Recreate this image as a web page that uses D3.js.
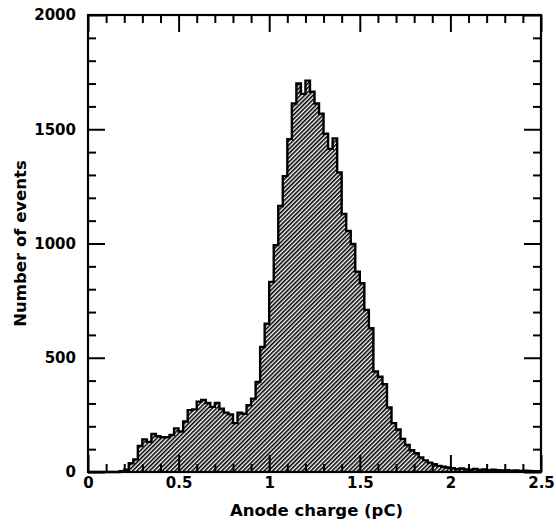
<!DOCTYPE html>
<html lang="en">
<head>
  <meta charset="UTF-8">
  <title>Anode charge</title>
  <style>
    body { margin: 0; background: #fff; }
    svg text { font-family: "DejaVu Sans", sans-serif; font-weight: bold; fill: #000; }
    .tick line { stroke: #000; stroke-width: 2; }
    .domain { display: none; }
  </style>
</head>
<body>
  <svg id="grafico" width="556" height="532"></svg>

  <script src="https://d3js.org/d3.v7.min.js"></script>
  <script>
    // histogram, bins of 0.025 pC from 0 to 2.5 pC
    const binWidth = 0.025;
    const counts = [
      0, 0, 0, 0, 0, 0, 0, 3, 10, 38,
      55, 114, 143, 132, 166, 157, 152, 152, 162, 191,
      177, 221, 271, 274, 308, 315, 302, 285, 302, 277,
      260, 252, 214, 260, 255, 292, 321, 394, 547, 649,
      832, 993, 1164, 1295, 1457, 1613, 1700, 1655, 1713, 1664,
      1613, 1568, 1480, 1414, 1460, 1311, 1129, 1055, 998, 877,
      826, 709, 629, 440, 417, 384, 282, 214, 186, 145,
      118, 95, 82, 64, 51, 41, 34, 27, 23, 20,
      17, 12, 15, 11, 10, 13, 9, 11, 8, 10,
      8, 7, 8, 6, 7, 5, 6, 5, 4, 4
    ];

    const xMajor = [0, 0.5, 1, 1.5, 2, 2.5];
    const xMinor = [0.1, 0.2, 0.3, 0.4, 0.6, 0.7, 0.8, 0.9, 1.1, 1.2, 1.3, 1.4,
                    1.6, 1.7, 1.8, 1.9, 2.1, 2.2, 2.3, 2.4];
    const yMajor = [0, 500, 1000, 1500, 2000];
    const yMinor = [100, 200, 300, 400, 600, 700, 800, 900, 1100, 1200, 1300, 1400,
                    1600, 1700, 1800, 1900];

    const esq = 88, dir = 541, topo = 15, base = 472;
    const x = d3.scaleLinear().domain([0, 2.5]).range([esq, dir]);
    const y = d3.scaleLinear().domain([0, 2000]).range([base, topo]);

    const svg = d3.select('#grafico');

    // hatch pattern ////
    const defs = svg.append('defs');
    defs.append('pattern')
      .attr('id', 'hachura')
      .attr('patternUnits', 'userSpaceOnUse')
      .attr('width', 3)
      .attr('height', 10)
      .attr('patternTransform', 'rotate(45)')
      .append('line')
      .attr('x1', 0.8).attr('y1', 0)
      .attr('x2', 0.8).attr('y2', 10)
      .attr('stroke', '#000')
      .attr('stroke-width', 1.6);

    // step points of the histogram
    const pontos = [];
    counts.forEach((c, i) => {
      pontos.push([i * binWidth, c]);
      pontos.push([(i + 1) * binWidth, c]);
    });

    const area = d3.area()
      .x(d => x(d[0]))
      .y0(y(0))
      .y1(d => y(d[1]));
    const linha = d3.line()
      .x(d => x(d[0]))
      .y(d => y(d[1]));

    svg.append('path')
      .datum(pontos)
      .attr('d', area)
      .attr('fill', 'url(#hachura)');

    svg.append('path')
      .datum(pontos)
      .attr('d', linha)
      .attr('fill', 'none')
      .attr('stroke', '#000')
      .attr('stroke-width', 2.4)
      .attr('stroke-linejoin', 'miter');

    // ticks on all four sides, pointing inward
    function eixo(gerador, transf, valores, tamanho, rotulo, pad) {
      const g = svg.append('g').attr('transform', transf)
        .call(gerador.tickValues(valores).tickSize(-tamanho).tickPadding(pad || 5)
          .tickFormat(rotulo ? d3.format('') : ''));
      g.selectAll('text').style('font-size', '15px');
      return g;
    }

    eixo(d3.axisBottom(x), `translate(0,${base})`, xMajor, 17, true, 5);
    eixo(d3.axisBottom(x), `translate(0,${base})`, xMinor, 8, false);
    eixo(d3.axisTop(x), `translate(0,${topo})`, xMajor, 17, false);
    eixo(d3.axisTop(x), `translate(0,${topo})`, xMinor, 8, false);
    eixo(d3.axisLeft(y), `translate(${esq},0)`, yMajor, 17, true, 12);
    eixo(d3.axisLeft(y), `translate(${esq},0)`, yMinor, 8, false);
    eixo(d3.axisRight(y), `translate(${dir},0)`, yMajor, 17, false);
    eixo(d3.axisRight(y), `translate(${dir},0)`, yMinor, 8, false);

    // frame
    svg.append('rect')
      .attr('x', esq).attr('y', topo)
      .attr('width', dir - esq).attr('height', base - topo)
      .attr('fill', 'none')
      .attr('stroke', '#000')
      .attr('stroke-width', 2.2);

    // axis titles
    svg.append('text')
      .attr('x', (esq + dir) / 2 + 2)
      .attr('y', 516)
      .attr('text-anchor', 'middle')
      .style('font-size', '16.5px')
      .text('Anode charge (pC)');

    svg.append('text')
      .attr('transform', `translate(26,${(topo + base) / 2}) rotate(-90)`)
      .attr('text-anchor', 'middle')
      .style('font-size', '16.5px')
      .text('Number of events');
  </script>
</body>
</html>
